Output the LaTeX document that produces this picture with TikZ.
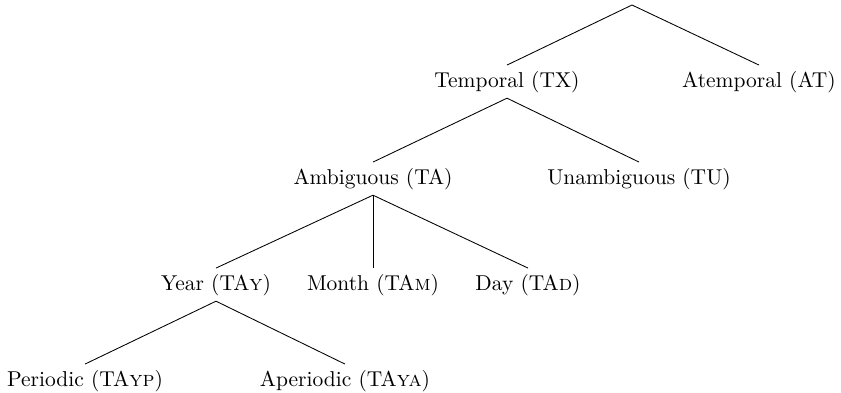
\documentclass[tikz,border=0pt]{standalone}
\begin{document}
\begin{tikzpicture}[x=0.4651pt,y=-0.4651pt,
  lab/.style={anchor=base,inner sep=2.5pt,text height=7.5pt,text depth=2.5pt},
  edge/.style={draw=black,line width=0.4pt}]
\useasboundingbox (0,0) rectangle (841,392);
\coordinate (root) at (632,5);
\node[lab] (tx) at (507,87) {Temporal (TX)};
\node[lab] (at) at (759,87) {Atemporal (AT)};
\node[lab] (ta) at (373,184) {Ambiguous (TA)};
\node[lab] (tu) at (639,184) {Unambiguous (TU)};
\node[lab] (tay) at (216,290) {Year (TA\textsc{y})};
\node[lab] (tam) at (373,290) {Month (TA\textsc{m})};
\node[lab] (tad) at (528,290) {Day (TA\textsc{d})};
\node[lab] (tayp) at (85,386) {Periodic (TA\textsc{yp})};
\node[lab] (taya) at (345,386) {Aperiodic (TA\textsc{ya})};
\draw[edge] (root) -- (tx.north);
\draw[edge] (root) -- (at.north);
\draw[edge] (tx.south) -- (ta.north);
\draw[edge] (tx.south) -- (tu.north);
\draw[edge] (ta.south) -- (tay.north);
\draw[edge] (ta.south) -- (tam.north);
\draw[edge] (ta.south) -- (tad.north);
\draw[edge] (tay.south) -- (tayp.north);
\draw[edge] (tay.south) -- (taya.north);
\end{tikzpicture}
\end{document}
